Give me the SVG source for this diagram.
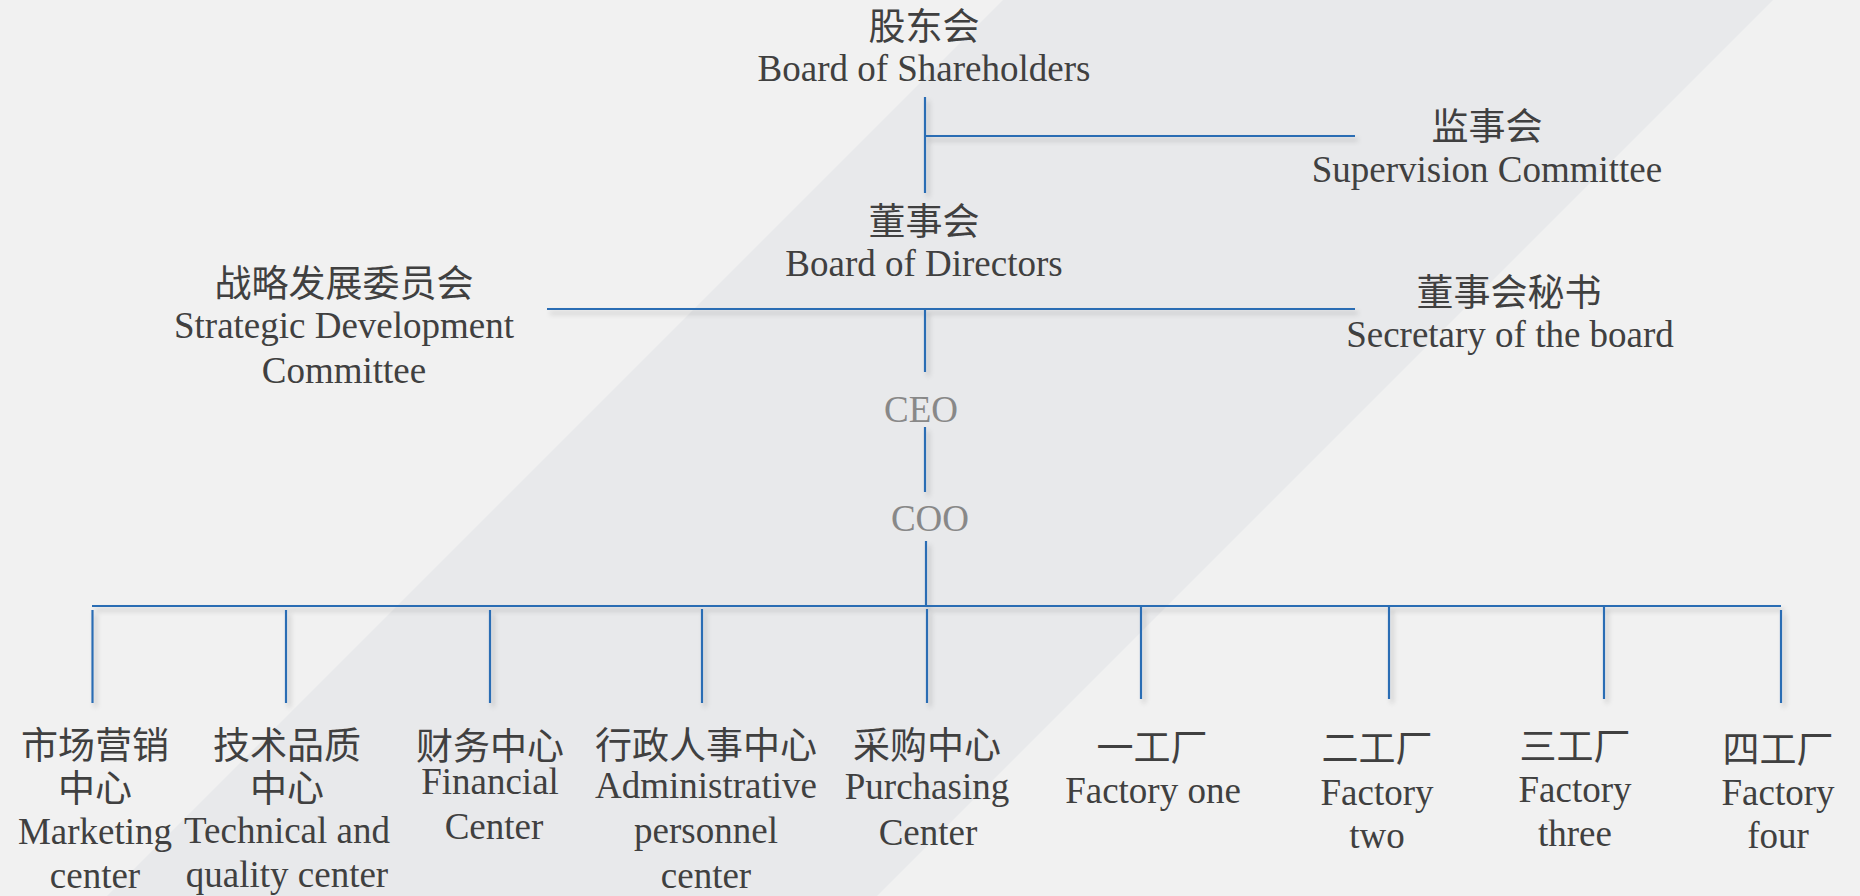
<svg xmlns="http://www.w3.org/2000/svg" width="1860" height="896" viewBox="0 0 1860 896">
<defs>
<filter id="sh" x="-20%" y="-20%" width="140%" height="140%">
<feDropShadow dx="3" dy="4" stdDeviation="2.5" flood-color="#000" flood-opacity="0.22"/>
</filter>
<style>
.cn{font-family:"Noto Sans CJK SC",sans-serif;font-size:37px;fill:#404040;text-anchor:middle}
.en{font-family:"Liberation Serif","Times New Roman",serif;font-size:37px;fill:#404040;text-anchor:middle}
.gr{font-family:"Liberation Serif","Times New Roman",serif;font-size:37px;fill:#888888;text-anchor:middle}
.ln{stroke:#2a6db4;stroke-width:2.2;fill:none}
</style>
</defs>
<rect width="1860" height="896" fill="#f1f1f1"/>
<polygon points="1003,0 1773,0 877,896 107,896" fill="#e8e9eb"/>

<g id="connectors" filter="url(#sh)">
<line class="ln" x1="925" y1="97" x2="925" y2="193"/>
<line class="ln" x1="925" y1="136" x2="1355" y2="136"/>
<line class="ln" x1="547" y1="309" x2="1355" y2="309"/>
<line class="ln" x1="925" y1="309" x2="925" y2="372"/>
<line class="ln" x1="925" y1="427" x2="925" y2="492"/>
<line class="ln" x1="926" y1="541" x2="926" y2="606"/>
<line class="ln" x1="92" y1="606" x2="1781" y2="606"/>
<line class="ln" x1="92.5" y1="610" x2="92.5" y2="703"/>
<line class="ln" x1="286" y1="610" x2="286" y2="703"/>
<line class="ln" x1="490" y1="610" x2="490" y2="703"/>
<line class="ln" x1="702" y1="609" x2="702" y2="703"/>
<line class="ln" x1="927" y1="609" x2="927" y2="703"/>
<line class="ln" x1="1141" y1="607" x2="1141" y2="699"/>
<line class="ln" x1="1389" y1="607" x2="1389" y2="699"/>
<line class="ln" x1="1604" y1="607" x2="1604" y2="699"/>
<line class="ln" x1="1781" y1="610" x2="1781" y2="703"/>
</g>

<g id="shareholders">
<text class="cn" x="924" y="40">股东会</text>
<text class="en" x="924" y="81">Board of Shareholders</text>
</g>
<g id="supervision">
<text class="cn" x="1487" y="140">监事会</text>
<text class="en" x="1487" y="182">Supervision Committee</text>
</g>
<g id="directors">
<text class="cn" x="924" y="235">董事会</text>
<text class="en" x="924" y="276">Board of Directors</text>
</g>
<g id="strategic">
<text class="cn" x="344" y="297">战略发展委员会</text>
<text class="en" x="344" y="338">Strategic Development</text>
<text class="en" x="344" y="383">Committee</text>
</g>
<g id="secretary">
<text class="cn" x="1509" y="306">董事会秘书</text>
<text class="en" x="1510" y="347">Secretary of the board</text>
</g>
<g id="ceo">
<text class="gr" x="921" y="422">CEO</text>
</g>
<g id="coo">
<text class="gr" x="930" y="531">COO</text>
</g>

<g id="marketing">
<text class="cn" x="95" y="759">市场营销</text>
<text class="cn" x="95" y="802">中心</text>
<text class="en" x="95" y="844">Marketing</text>
<text class="en" x="95" y="888">center</text>
</g>
<g id="technical">
<text class="cn" x="287" y="759">技术品质</text>
<text class="cn" x="287" y="802">中心</text>
<text class="en" x="287" y="843">Technical and</text>
<text class="en" x="287" y="887">quality center</text>
</g>
<g id="financial">
<text class="cn" x="490" y="760">财务中心</text>
<text class="en" x="490" y="794">Financial</text>
<text class="en" x="494" y="839">Center</text>
</g>
<g id="admin">
<text class="cn" x="706" y="759">行政人事中心</text>
<text class="en" x="706" y="798">Administrative</text>
<text class="en" x="706" y="843">personnel</text>
<text class="en" x="706" y="888">center</text>
</g>
<g id="purchasing">
<text class="cn" x="927" y="759">采购中心</text>
<text class="en" x="927" y="799">Purchasing</text>
<text class="en" x="928" y="845">Center</text>
</g>
<g id="factory1">
<text class="cn" x="1152" y="761">一工厂</text>
<text class="en" x="1153" y="803">Factory one</text>
</g>
<g id="factory2">
<text class="cn" x="1377" y="762">二工厂</text>
<text class="en" x="1377" y="805">Factory</text>
<text class="en" x="1377" y="848">two</text>
</g>
<g id="factory3">
<text class="cn" x="1575" y="760">三工厂</text>
<text class="en" x="1575" y="802">Factory</text>
<text class="en" x="1575" y="846">three</text>
</g>
<g id="factory4">
<text class="cn" x="1778" y="763">四工厂</text>
<text class="en" x="1778" y="805">Factory</text>
<text class="en" x="1778" y="848">four</text>
</g>
</svg>
